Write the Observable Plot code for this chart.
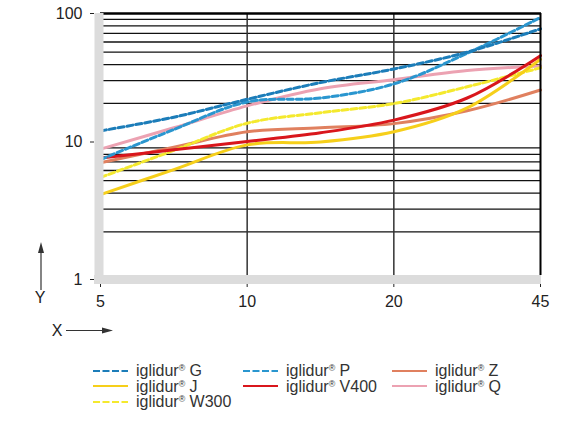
<!DOCTYPE html>
<html>
<head>
<meta charset="utf-8">
<script src="https://cdn.jsdelivr.net/npm/d3@7"></script>
<script src="https://cdn.jsdelivr.net/npm/@observablehq/plot@0.6"></script>
<style>
  body { margin: 0; background: #fff; font-family: "Liberation Sans", Arial, sans-serif; }
  #wrap { position: relative; width: 570px; height: 426px; overflow: hidden; }
  #arrows { position: absolute; left: 0; top: 0; pointer-events: none; }
  #legend { position: absolute; left: 93px; top: 363px; display: grid;
    grid-template-columns: 150px 149px 150px; grid-template-rows: repeat(3, 15.5px);
    font-size: 16px; color: #333; }
  .item { display: flex; align-items: center; white-space: nowrap; line-height: 15.5px; }
  .item svg { margin-right: 8px; flex: none; }
  sup { font-size: 0.55em; vertical-align: 0.62em; line-height: 0; }
</style>
</head>
<body>
<div id="wrap">
  <div id="chart"></div>
  <div id="legend"></div>
  <svg id="arrows" width="570" height="426">
    <g fill="#333" stroke="#333">
      <line x1="41" y1="290" x2="41" y2="250" stroke-width="1.2"></line>
      <path d="M41,242 L38,253 L44,253 Z" stroke="none"></path>
      <line x1="66" y1="330.5" x2="104" y2="330.5" stroke-width="1.2"></line>
      <path d="M113,330.5 L102,327.5 L102,333.5 Z" stroke="none"></path>
    </g>
    <g font-family="Liberation Sans, Arial, sans-serif" font-size="16" fill="#222" text-anchor="middle">
      <text x="40" y="302.5">Y</text>
      <text x="57" y="336">X</text>
    </g>
  </svg>
</div>
<script>
// x axis: equally spaced positions, labelled 5 / 10 / 20 / 45
const xLabels = [5, 10, 20, 45]
const xPos = [0, 0.5, 1, 1.5, 2, 2.5, 3]

// curves (log y)
const gValues    = [12.2, 15.6, 21.5, 29.0, 37.0, 50.0, 76.0]
const pValues    = [7.3, 12.5, 20.5, 22.0, 28.3, 49.0, 93.0]
const jValues    = [3.9, 6.1, 9.5, 10.0, 12.0, 18.4, 44.0]
const w300Values = [5.3, 8.6, 14.0, 16.9, 19.9, 26.9, 37.8]
const v400Values = [7.5, 8.7, 10.1, 11.8, 14.8, 22.0, 47.0]
const zValues    = [6.9, 9.1, 12.0, 12.9, 13.9, 17.5, 25.4]
const qValues    = [8.8, 12.9, 19.1, 26.0, 30.5, 36.0, 39.0]

const yTicks = [10, 100]
const yGrid = [2, 3, 4, 5, 6, 7, 8, 9, 20, 30, 40, 50, 60, 70, 80, 90]

const valuesByName = {G: gValues, P: pValues, J: jValues, W300: w300Values, V400: v400Values, Z: zValues, Q: qValues}

const styles = {
  G:    {color: '#1c7db9', dash: '6,3'},
  P:    {color: '#2a96cf', dash: '6,3'},
  J:    {color: '#f6cf1a', dash: null},
  W300: {color: '#f4e92e', dash: '6,3'},
  V400: {color: '#d9161c', dash: null},
  Z:    {color: '#e0805f', dash: null},
  Q:    {color: '#eca2b2', dash: null}
}
const drawOrder = ['Q', 'Z', 'W300', 'J', 'V400', 'P', 'G']
const legendCols = [['G', 'J', 'W300'], ['P', 'V400'], ['Z', 'Q']]

const lines = drawOrder.map(name => Plot.line(
  xPos.map((x, i) => ({x, y: valuesByName[name][i]})),
  {x: 'x', y: 'y', stroke: styles[name].color, strokeWidth: 3,
   strokeDasharray: styles[name].dash, curve: 'catmull-rom'}
))

const axisStyle = {tickSize: 4, dx: -6, tickPadding: 8, tickFormat: d => String(d), label: null}

let chart = Plot.plot({
  width: 570,
  height: 345,
  marginTop: 13,
  marginBottom: 75,
  marginLeft: 100,
  marginRight: 30,
  x: {domain: [0, 3], axis: null},
  y: {type: 'log', domain: [1, 100], axis: null},
  style: {fontFamily: 'Liberation Sans, Arial, sans-serif', fontSize: '16px', color: '#222', background: '#fff'},
  marks: [
    Plot.ruleY(yGrid, {stroke: '#111', strokeWidth: 1.3}),
    Plot.ruleX([1, 2], {stroke: '#333', strokeWidth: 1.5, insetBottom: -5}),
    ...lines,
    Plot.ruleX([3], {stroke: '#000', strokeWidth: 2, insetBottom: -5}),
    Plot.ruleY([100], {stroke: '#000', strokeWidth: 2.5, insetRight: -1}),
    Plot.ruleX([0], {stroke: '#dcdcdc', strokeWidth: 9, dx: -1.5, insetBottom: -14}),
    Plot.ruleY([1], {stroke: '#dcdcdc', strokeWidth: 9, dy: 9, insetLeft: -6, insetRight: -1}),
    Plot.axisY(yTicks, axisStyle),
    Plot.axisY([1], {...axisStyle, dy: 9}),
    Plot.axisX([0, 1, 2, 3], {tickSize: 3, dy: 14, tickPadding: 8, tickFormat: i => xLabels[i], label: null})
  ]
})
d3.select('#chart').append(() => chart)

// legend below the chart
const legend = d3.select('#legend')
legendCols.forEach((col, c) => col.forEach((name, r) => {
  const item = legend.append('div').attr('class', 'item')
    .style('grid-column', c + 1).style('grid-row', r + 1)
  const sw = item.append('svg').attr('width', 35).attr('height', 6)
  sw.append('line').attr('x1', 0).attr('x2', 35).attr('y1', 3).attr('y2', 3)
    .attr('stroke', styles[name].color).attr('stroke-width', 2.2)
    .attr('stroke-dasharray', styles[name].dash ? '7,2.5' : null)
  item.append('span').html('iglidur<sup>®</sup> ' + name)
}))
</script>
</body>
</html>
